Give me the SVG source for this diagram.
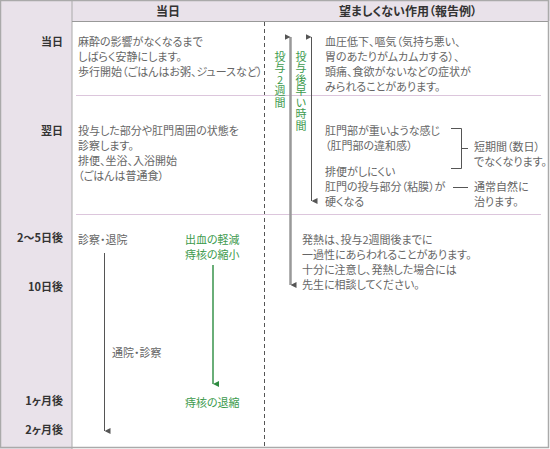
<svg xmlns="http://www.w3.org/2000/svg" width="550" height="449" viewBox="0 0 550 449">
<style>
text{font-family:"Noto Sans CJK JP","Noto Sans",sans-serif;font-size:11px;font-feature-settings:"palt";}
.t{fill:#666;}
.g{fill:#3c9a4c;}
.v{fill:#3c9a4c;writing-mode:vertical-rl;text-orientation:upright;font-feature-settings:normal;letter-spacing:0.5px;}
.lbl{fill:#333;font-weight:bold;text-anchor:end;}
.hd{fill:#333;font-weight:bold;font-size:12px;text-anchor:middle;}
.pink{stroke:#dcc6dc;stroke-width:1;}
</style>
<defs>
<marker id="ah" viewBox="0 0 10 10" refX="5" refY="10" markerWidth="6" markerHeight="6" orient="auto-start-reverse" markerUnits="userSpaceOnUse"><path d="M0,0 L10,0 L5,10 Z" fill="#555"/></marker>
<marker id="ahg" viewBox="0 0 10 10" refX="5" refY="10" markerWidth="6" markerHeight="6" orient="auto" markerUnits="userSpaceOnUse"><path d="M0,0 L10,0 L5,10 Z" fill="#2e8b40"/></marker>
</defs>
<rect x="0" y="0" width="550" height="449" fill="#fff"/>
<rect x="0" y="0" width="72" height="449" fill="#e9e2ea"/>
<rect x="72" y="0" width="478" height="21" fill="#e9e2ea"/>
<g id="grid">
<line x1="72" y1="0" x2="72" y2="449" stroke="#aaa" stroke-width="1"/>
<line x1="72" y1="21.5" x2="549" y2="21.5" stroke="#999" stroke-width="1"/>
<line x1="264.5" y1="22" x2="264.5" y2="447" stroke="#555" stroke-width="1" stroke-dasharray="4,3"/>
<line x1="76" y1="95.5" x2="541" y2="95.5" class="pink"/>
<line x1="76" y1="214.5" x2="541" y2="214.5" class="pink"/>
<rect x="0.5" y="0.5" width="548" height="447" fill="none" stroke="#aaa" stroke-width="1.5"/>
</g>
<g id="header">
<text x="168" y="16" class="hd">当日</text>
<text x="408" y="16" class="hd">望ましくない作用（報告例）</text>
</g>
<g id="rowlabels">
<text x="63" y="46" class="lbl">当日</text>
<text x="63" y="135" class="lbl">翌日</text>
<text x="63" y="242" class="lbl">2〜5日後</text>
<text x="63" y="291" class="lbl">10日後</text>
<text x="63" y="405" class="lbl">1ヶ月後</text>
<text x="63" y="434" class="lbl">2ヶ月後</text>
</g>
<g id="day0">
<text x="78" y="46" class="t">麻酔の影響がなくなるまで</text>
<text x="78" y="61" class="t">しばらく安静にします。</text>
<text x="78" y="76" class="t">歩行開始（ごはんはお粥、ジュースなど）</text>
</g>
<g id="day1">
<text x="78" y="135" class="t">投与した部分や肛門周囲の状態を</text>
<text x="78" y="150" class="t">診察します。</text>
<text x="78" y="165" class="t">排便、坐浴、入浴開始</text>
<text x="78" y="180" class="t">（ごはんは普通食）</text>
</g>
<g id="discharge">
<text x="78" y="244" class="t">診察・退院</text>
<text x="112" y="357" class="t">通院・診察</text>
</g>
<g id="green">
<text x="185" y="244" class="g">出血の軽減</text>
<text x="185" y="259" class="g">痔核の縮小</text>
<text x="185" y="407" class="g">痔核の退縮</text>
</g>
<g id="side1">
<text x="325" y="46" class="t">血圧低下、嘔気（気持ち悪い、</text>
<text x="325" y="61" class="t">胃のあたりがムカムカする）、</text>
<text x="325" y="76" class="t">頭痛、食欲がないなどの症状が</text>
<text x="325" y="91" class="t">みられることがあります。</text>
</g>
<g id="side2">
<text x="325" y="135" class="t">肛門部が重いような感じ</text>
<text x="325" y="150" class="t">（肛門部の違和感）</text>
<text x="325" y="176" class="t">排便がしにくい</text>
<text x="325" y="191" class="t">肛門の投与部分（粘膜）が</text>
<text x="325" y="206" class="t">硬くなる</text>
<text x="474" y="151" class="t">短期間（数日）</text>
<text x="474" y="166" class="t">でなくなります。</text>
<text x="474" y="191" class="t">通常自然に</text>
<text x="474" y="206" class="t">治ります。</text>
</g>
<g id="side3">
<text x="302" y="244" class="t">発熱は、投与2週間後までに</text>
<text x="302" y="259" class="t">一過性にあらわれることがあります。</text>
<text x="302" y="274" class="t">十分に注意し、発熱した場合には</text>
<text x="302" y="289" class="t">先生に相談してください。</text>
</g>
<g id="vlabels">
<text x="280" y="51" class="v">投与2週間</text>
<text x="301" y="51" class="v">投与後早い時間</text>
</g>
<g id="connectors">
<line x1="290.5" y1="37" x2="290.5" y2="285" stroke="#999" stroke-width="2.5" marker-start="url(#ah)" marker-end="url(#ah)"/>
<line x1="311.5" y1="37" x2="311.5" y2="201" stroke="#555" stroke-width="1" marker-start="url(#ah)" marker-end="url(#ah)"/>
<line x1="104.5" y1="253" x2="104.5" y2="431" stroke="#555" stroke-width="1" marker-end="url(#ah)"/>
<line x1="213" y1="265" x2="213" y2="384" stroke="#6aae78" stroke-width="2" marker-end="url(#ahg)"/>
<path d="M451,128.5 H461.5 V168.5 H451 M461.5,148.5 H468" fill="none" stroke="#555" stroke-width="1"/>
<line x1="453" y1="187.5" x2="468" y2="187.5" stroke="#555" stroke-width="1"/>
</g>
</svg>
